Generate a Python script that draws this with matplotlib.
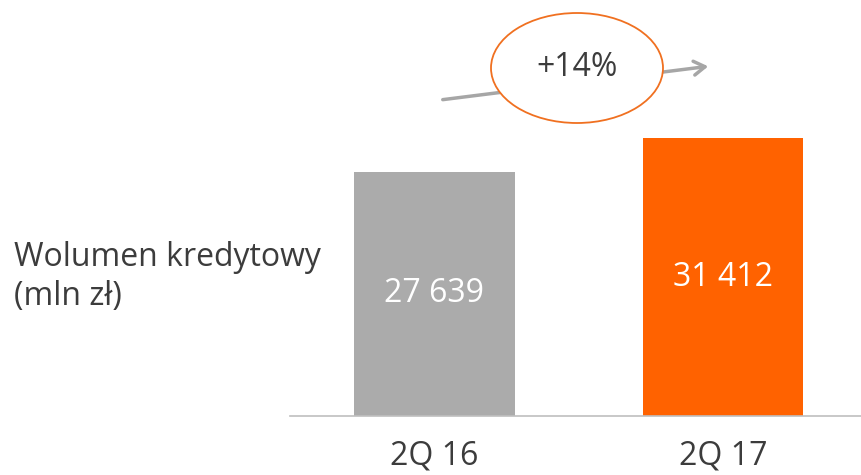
import matplotlib.pyplot as plt
from matplotlib.patches import Ellipse, FancyArrowPatch

plt.rcParams['font.family'] = ['Open Sans', 'DejaVu Sans']

# data
categories = ["2Q 16", "2Q 17"]
volumes = [27639, 31412]
value_labels = ["27 639", "31 412"]
change_label = "+14%"
ylabel_text = "Wolumen kredytowy\n(mln zł)"

GREY = "#ababab"
ORANGE = "#ff6200"
TEXT = "#3c3c3c"
FS = 23

W, H = 861, 475
fig = plt.figure(figsize=(W / 100, H / 100), dpi=100)


def fx(px):
    return px / W


def fy(py):
    return 1 - py / H


# axes: baseline at y=416 px, from x=290 px to right edge
ax = fig.add_axes([fx(290), fy(416), 1 - fx(290), 416 / H])
x = list(range(len(categories)))
ax.bar(x, volumes, width=0.554, color=[GREY, ORANGE], zorder=2)
ax.set_xlim(-0.5, 1.476)
ax.set_ylim(0, 47060)

for xi, v, lab in zip(x, volumes, value_labels):
    ax.text(xi, v / 2, lab, ha="center", va="center", color="white", fontsize=FS)

for s in ["top", "right", "left"]:
    ax.spines[s].set_visible(False)
ax.spines["bottom"].set_color("#bfbfbf")
ax.spines["bottom"].set_linewidth(1.2)
ax.set_yticks([])
ax.set_xticks(x)
ax.set_xticklabels(categories, fontsize=FS, color=TEXT)
ax.tick_params(axis="x", length=0, pad=17)

fig.text(fx(14), fy(277), ylabel_text, ha="left", va="center", fontsize=FS,
         color=TEXT, linespacing=1.2)

# growth arrow with ellipse
arrow = FancyArrowPatch((fx(440), fy(100)), (fx(711), fy(66)), transform=fig.transFigure,
                        arrowstyle="->,head_length=8,head_width=5", color="#a6a6a6",
                        lw=2.5, mutation_scale=1)
fig.add_artist(arrow)
ell = Ellipse((fx(577), fy(68)), fx(172), 110 / H, transform=fig.transFigure,
              facecolor="white", edgecolor="#f07020", lw=1.3)
fig.add_artist(ell)
fig.text(fx(577), fy(68), change_label, ha="center", va="center", fontsize=FS, color=TEXT)

fig.savefig("out.png", dpi=100)
